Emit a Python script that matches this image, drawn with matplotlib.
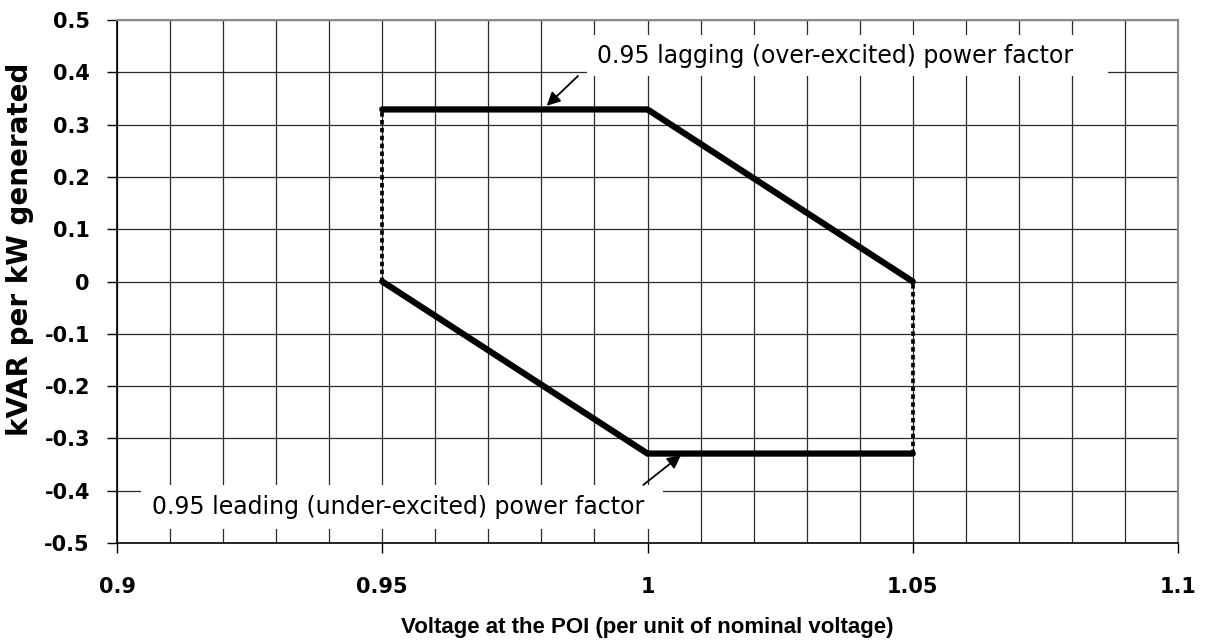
import matplotlib
matplotlib.use("Agg")
import matplotlib.pyplot as plt
from matplotlib.patches import Rectangle
import numpy as np

# ---- data ----
v_upper = [0.95, 1.00, 1.05]
q_upper = [0.329, 0.329, 0.0]
v_lower = [0.95, 1.00, 1.05]
q_lower = [0.0, -0.329, -0.329]
v_left_dotted = [0.95, 0.95]
q_left_dotted = [0.0, 0.329]
v_right_dotted = [1.05, 1.05]
q_right_dotted = [-0.329, 0.0]

x_ticks = [0.9, 0.95, 1.0, 1.05, 1.1]
x_tick_labels = ["0.9", "0.95", "1", "1.05", "1.1"]
y_ticks = [0.5, 0.4, 0.3, 0.2, 0.1, 0.0, -0.1, -0.2, -0.3, -0.4, -0.5]
y_tick_labels = ["0.5", "0.4", "0.3", "0.2", "0.1", "0", "-0.1", "-0.2", "-0.3", "-0.4", "-0.5"]

label_lag = "0.95 lagging (over-excited) power factor"
label_lead = "0.95 leading (under-excited) power factor"
xlabel = "Voltage at the POI (per unit of nominal voltage)"
ylabel = "kVAR per kW generated"

plt.rcParams['font.family'] = ['DejaVu Sans']

fig = plt.figure(figsize=(12.12, 6.40), dpi=100)
ax = fig.add_axes([117/1212, 1-543/640, (1178-117)/1212, (543-20)/640])

ax.set_xlim(0.9, 1.1)
ax.set_ylim(-0.5, 0.5)

# grid
ax.set_xticks(np.arange(0.9, 1.1001, 0.01), minor=True)
ax.set_xticks(x_ticks)
ax.set_xticklabels(x_tick_labels, fontsize=15, fontweight='bold')
ax.set_yticks(y_ticks)
ax.set_yticklabels(y_tick_labels, fontsize=15, fontweight='bold')
ax.grid(True, which='both', axis='x', color='#2a2a2a', lw=0.9, zorder=0)
ax.grid(True, which='major', axis='y', color='#2a2a2a', lw=0.9, zorder=0)
ax.set_axisbelow(True)
ax.tick_params(axis='x', which='minor', length=0)
ax.tick_params(axis='both', which='major', length=7, width=1.0, direction='out', color='black')
ax.tick_params(axis='x', which='major', pad=17.5)
ax.tick_params(axis='y', which='major', pad=12.5)

for s in ['left', 'bottom']:
    ax.spines[s].set_color('black')
    ax.spines[s].set_linewidth(1.2)
for s in ['top', 'right']:
    ax.spines[s].set_color('#8a8a8a')
    ax.spines[s].set_linewidth(1.5)

# data lines
ax.plot(v_left_dotted, q_left_dotted, color='black', lw=2.7, dashes=(1.2, 0.9),
        dash_capstyle='butt', zorder=3)
ax.plot(v_right_dotted, q_right_dotted, color='black', lw=2.7, dashes=(1.2, 0.9),
        dash_capstyle='butt', zorder=3)
ax.plot(v_upper, q_upper, color='black', lw=4.5, solid_capstyle='round',
        solid_joinstyle='miter', zorder=4)
ax.plot(v_lower, q_lower, color='black', lw=4.5, solid_capstyle='round',
        solid_joinstyle='miter', zorder=4)

# annotation boxes (white background covering grid)
ax.add_patch(Rectangle((0.9886, 0.393), 1.0868-0.9886, 0.471-0.393, facecolor='white',
                       edgecolor='none', zorder=2))
ax.add_patch(Rectangle((0.9045, -0.473), 1.0029-0.9045, 0.084, facecolor='white',
                       edgecolor='none', zorder=2))
ax.text(1.0354, 0.432, label_lag, fontsize=17, ha='center', va='center', zorder=5)
ax.text(0.9529, -0.431, label_lead, fontsize=17, ha='center', va='center', zorder=5)

ax.annotate('', xy=(0.981, 0.336), xytext=(0.9869, 0.393),
            arrowprops=dict(arrowstyle='-|>', color='black', lw=1.3, mutation_scale=20,
                            shrinkA=0, shrinkB=0), zorder=6)
ax.annotate('', xy=(1.0063, -0.332), xytext=(0.9992, -0.389),
            arrowprops=dict(arrowstyle='-|>', color='black', lw=1.3, mutation_scale=20,
                            shrinkA=0, shrinkB=0), zorder=6)

fig.text(647/1212, 1-633/640, xlabel, fontsize=16, fontweight='bold', ha='center',
         va='baseline', family=['Liberation Sans', 'DejaVu Sans'])
fig.text(20/1212, 1-249/640, ylabel, fontsize=20, fontweight='bold', ha='center', va='center',
         rotation=90)

fig.savefig("out.png", dpi=100)
